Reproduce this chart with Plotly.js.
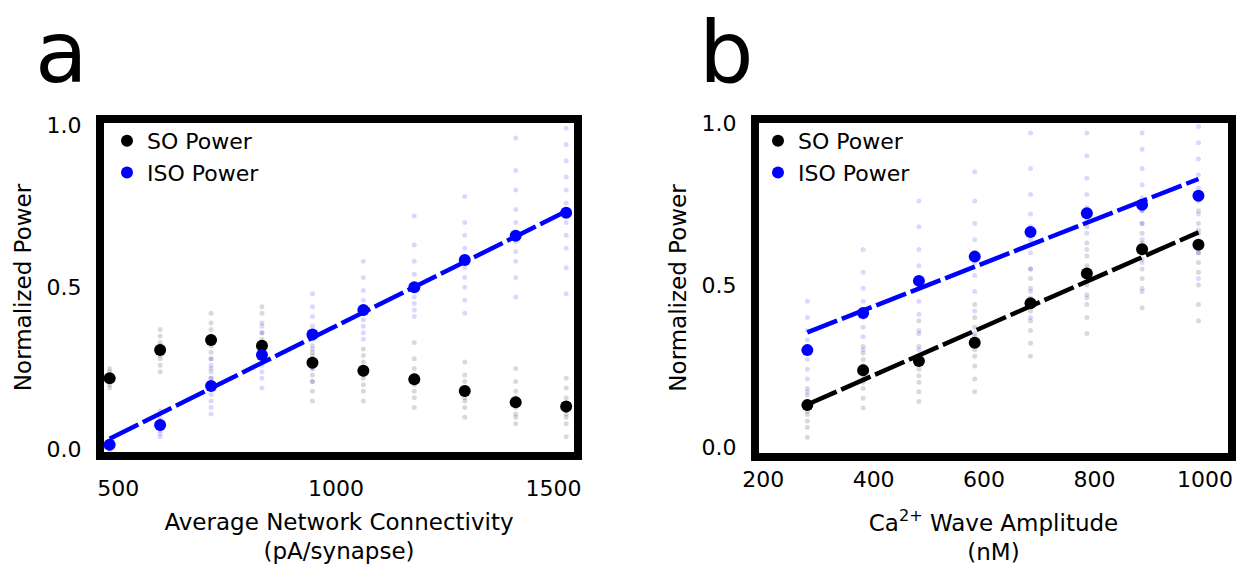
<!DOCTYPE html>
<html>
<head>
<meta charset="utf-8">
<script src="https://cdn.plot.ly/plotly-3.0.1.min.js"></script>
<style>html,body{margin:0;padding:0;background:#fff;}#chart{width:1238px;height:569px;}</style>
</head>
<body>
<div id="chart"></div>
<script>
// ---------- Panel a: Average Network Connectivity (pA/synapse) ----------
const connectivity = [480, 596, 713, 830, 946, 1063, 1180, 1296, 1413, 1529];
const aSOMean  = [0.220, 0.307, 0.338, 0.320, 0.268, 0.243, 0.217, 0.181, 0.146, 0.133];
const aISOMean = [0.015, 0.076, 0.196, 0.292, 0.355, 0.430, 0.500, 0.584, 0.659, 0.730];
const aISOFitX = [480, 1529];
const aISOFitY = [0.034, 0.734];
const aSOTrials = [
  [0.19,0.20,0.21,0.21,0.22,0.22,0.23,0.23,0.24,0.25],
  [0.24,0.26,0.28,0.29,0.30,0.31,0.32,0.33,0.35,0.37],
  [0.22,0.25,0.28,0.30,0.32,0.34,0.35,0.37,0.39,0.42],
  [0.29,0.30,0.31,0.32,0.33,0.34,0.36,0.39,0.42,0.44],
  [0.15,0.18,0.21,0.23,0.25,0.26,0.27,0.29,0.30,0.32],
  [0.15,0.18,0.20,0.22,0.23,0.24,0.25,0.27,0.29,0.31],
  [0.13,0.16,0.18,0.20,0.21,0.22,0.23,0.25,0.28,0.33],
  [0.10,0.13,0.15,0.16,0.17,0.18,0.19,0.21,0.23,0.27],
  [0.08,0.10,0.11,0.13,0.14,0.15,0.16,0.18,0.21,0.25],
  [0.04,0.08,0.10,0.11,0.12,0.13,0.14,0.16,0.19,0.22]
];
const aISOTrials = [
  [0.00,0.01,0.01,0.02,0.02,0.03],
  [0.04,0.05,0.06,0.07,0.08,0.09,0.10,0.12],
  [0.11,0.13,0.15,0.17,0.19,0.20,0.22,0.24,0.26,0.28],
  [0.19,0.22,0.24,0.26,0.28,0.30,0.31,0.33,0.36,0.38],
  [0.21,0.25,0.28,0.31,0.34,0.36,0.38,0.41,0.44,0.48],
  [0.34,0.36,0.38,0.40,0.42,0.44,0.46,0.49,0.53,0.58],
  [0.41,0.43,0.45,0.47,0.49,0.51,0.54,0.58,0.63,0.72],
  [0.42,0.46,0.50,0.53,0.56,0.59,0.62,0.66,0.70,0.78],
  [0.47,0.53,0.58,0.61,0.64,0.67,0.70,0.74,0.80,0.86,0.96],
  [0.48,0.56,0.62,0.66,0.70,0.73,0.76,0.80,0.84,0.89,0.94,0.99]
];
const aXTicks = [500, 1000, 1500];

// ---------- Panel b: Ca2+ Wave Amplitude (nM) ----------
const amplitude = [280, 381, 482, 583, 684, 786, 886, 988];
const bSOMean  = [0.129, 0.237, 0.265, 0.322, 0.444, 0.536, 0.611, 0.625];
const bISOMean = [0.299, 0.414, 0.513, 0.588, 0.664, 0.722, 0.748, 0.776];
const bFitX = [280, 988];
const bISOFitY = [0.354, 0.828];
const bSOFitY  = [0.131, 0.663];
const bSOTrials = [
  [0.03,0.06,0.08,0.10,0.11,0.12,0.13,0.14,0.16,0.18],
  [0.12,0.15,0.18,0.20,0.22,0.24,0.25,0.27,0.29,0.31],
  [0.14,0.17,0.20,0.22,0.24,0.26,0.28,0.31,0.35,0.39],
  [0.17,0.21,0.25,0.28,0.30,0.32,0.34,0.37,0.40,0.44],
  [0.28,0.32,0.36,0.39,0.42,0.44,0.46,0.49,0.52,0.55],
  [0.35,0.40,0.44,0.47,0.50,0.53,0.56,0.59,0.63,0.68],
  [0.43,0.48,0.52,0.55,0.58,0.61,0.63,0.66,0.69,0.73],
  [0.39,0.44,0.50,0.54,0.57,0.60,0.63,0.66,0.69,0.73]
];
const bISOTrials = [
  [0.17,0.21,0.24,0.27,0.29,0.31,0.33,0.36,0.40,0.45],
  [0.25,0.30,0.34,0.37,0.40,0.42,0.45,0.49,0.54,0.61],
  [0.30,0.36,0.41,0.45,0.49,0.52,0.56,0.61,0.68,0.76],
  [0.35,0.42,0.48,0.53,0.57,0.60,0.64,0.69,0.76,0.85],
  [0.40,0.48,0.55,0.60,0.64,0.68,0.72,0.78,0.86,0.97],
  [0.46,0.54,0.61,0.66,0.70,0.74,0.78,0.83,0.90,0.97],
  [0.49,0.57,0.64,0.69,0.73,0.77,0.81,0.86,0.92,0.97],
  [0.52,0.60,0.67,0.72,0.76,0.80,0.84,0.89,0.94,0.99]
];
const bXTicks = [200, 400, 600, 800, 1000];
const yTicks = [0, 0.5, 1.0];

const FONT = 'DejaVu Sans, Verdana, sans-serif';
const BLUE = '#0000ff';

function flatten(xs, trials) {
  const x = [], y = [];
  trials.forEach((col, i) => col.forEach(v => { x.push(xs[i]); y.push(v); }));
  return {x, y};
}
function trialTrace(xs, trials, color, xa, ya) {
  const f = flatten(xs, trials);
  return {x: f.x, y: f.y, xaxis: xa, yaxis: ya, type: 'scatter', mode: 'markers',
    marker: {size: 5, color: color}, showlegend: false, hoverinfo: 'skip'};
}
function fitTrace(x, y, color, xa, ya) {
  return {x: x, y: y, xaxis: xa, yaxis: ya, type: 'scatter', mode: 'lines',
    line: {color: color, width: 4.5, dash: '32px,5px'}, showlegend: false};
}
function meanTrace(x, y, color, name, xa, ya, leg) {
  return {x: x, y: y, xaxis: xa, yaxis: ya, type: 'scatter', mode: 'markers', name: name,
    marker: {size: 12, color: color}, legend: leg};
}

const data = [
  trialTrace(connectivity, aSOTrials, 'rgba(0,0,0,0.15)', 'x', 'y'),
  trialTrace(connectivity, aISOTrials, 'rgba(0,0,255,0.15)', 'x', 'y'),
  fitTrace(aISOFitX, aISOFitY, BLUE, 'x', 'y'),
  meanTrace(connectivity, aSOMean, '#000', 'SO Power', 'x', 'y', 'legend'),
  meanTrace(connectivity, aISOMean, BLUE, 'ISO Power', 'x', 'y', 'legend'),

  trialTrace(amplitude, bSOTrials, 'rgba(0,0,0,0.15)', 'x2', 'y2'),
  trialTrace(amplitude, bISOTrials, 'rgba(0,0,255,0.15)', 'x2', 'y2'),
  fitTrace(bFitX, bISOFitY, BLUE, 'x2', 'y2'),
  fitTrace(bFitX, bSOFitY, '#000', 'x2', 'y2'),
  meanTrace(amplitude, bSOMean, '#000', 'SO Power', 'x2', 'y2', 'legend2'),
  meanTrace(amplitude, bISOMean, BLUE, 'ISO Power', 'x2', 'y2', 'legend2')
];

const W = 1238, H = 569;
const px = v => v / W;
const py = v => 1 - v / H;

const axisBase = {
  showgrid: false, zeroline: false, showline: true, mirror: true,
  linecolor: '#000', linewidth: 8, ticks: '',
  tickfont: {family: FONT, size: 22, color: '#000'}
};
const titleFont = {family: FONT, size: 23, color: '#000'};

const layout = {
  width: W, height: H, autosize: false,
  margin: {l: 0, r: 0, t: 0, b: 0},
  paper_bgcolor: '#fff', plot_bgcolor: '#fff',
  font: {family: FONT, color: '#000'},
  xaxis: Object.assign({}, axisBase, {
    domain: [px(104), px(574)], range: [467, 1547], anchor: 'y',
    tickvals: aXTicks, ticklabelstandoff: 10,
    title: {text: 'Average Network Connectivity<br>(pA/synapse)', font: titleFont, standoff: 16}
  }),
  yaxis: Object.assign({}, axisBase, {
    domain: [py(452), py(123)], range: [-0.007, 1.006], anchor: 'x',
    tickvals: yTicks, tickformat: '.1f', ticklabelstandoff: 10,
    title: {text: 'Normalized Power', font: titleFont, standoff: 12}
  }),
  xaxis2: Object.assign({}, axisBase, {
    domain: [px(759), px(1228)], range: [192.5, 1041.5], anchor: 'y2',
    tickvals: bXTicks, ticklabelstandoff: 0,
    title: {text: 'Ca<sup>2+</sup> Wave Amplitude<br>(nM)', font: titleFont, standoff: 26}
  }),
  yaxis2: Object.assign({}, axisBase, {
    domain: [py(453), py(123)], range: [-0.019, 1.001], anchor: 'x2',
    tickvals: yTicks, tickformat: '.1f', ticklabelstandoff: 10,
    title: {text: 'Normalized Power', font: titleFont, standoff: 12}
  }),
  legend: {x: px(107), y: py(120), xanchor: 'left', yanchor: 'top',
    font: {family: FONT, size: 22, color: '#000'}, bgcolor: 'rgba(0,0,0,0)', borderwidth: 0},
  legend2: {x: px(758), y: py(120), xanchor: 'left', yanchor: 'top',
    font: {family: FONT, size: 22, color: '#000'}, bgcolor: 'rgba(0,0,0,0)', borderwidth: 0},
  annotations: [
    {text: 'a', xref: 'paper', yref: 'paper', x: px(33), y: 1, xanchor: 'left', yanchor: 'top',
      showarrow: false, font: {family: FONT, size: 86, color: '#000'}},
    {text: 'b', xref: 'paper', yref: 'paper', x: px(697), y: 1, xanchor: 'left', yanchor: 'top',
      showarrow: false, font: {family: FONT, size: 86, color: '#000'}}
  ],
  showlegend: true
};

Plotly.newPlot('chart', data, layout, {staticPlot: true, displayModeBar: false});
</script>
</body>
</html>
